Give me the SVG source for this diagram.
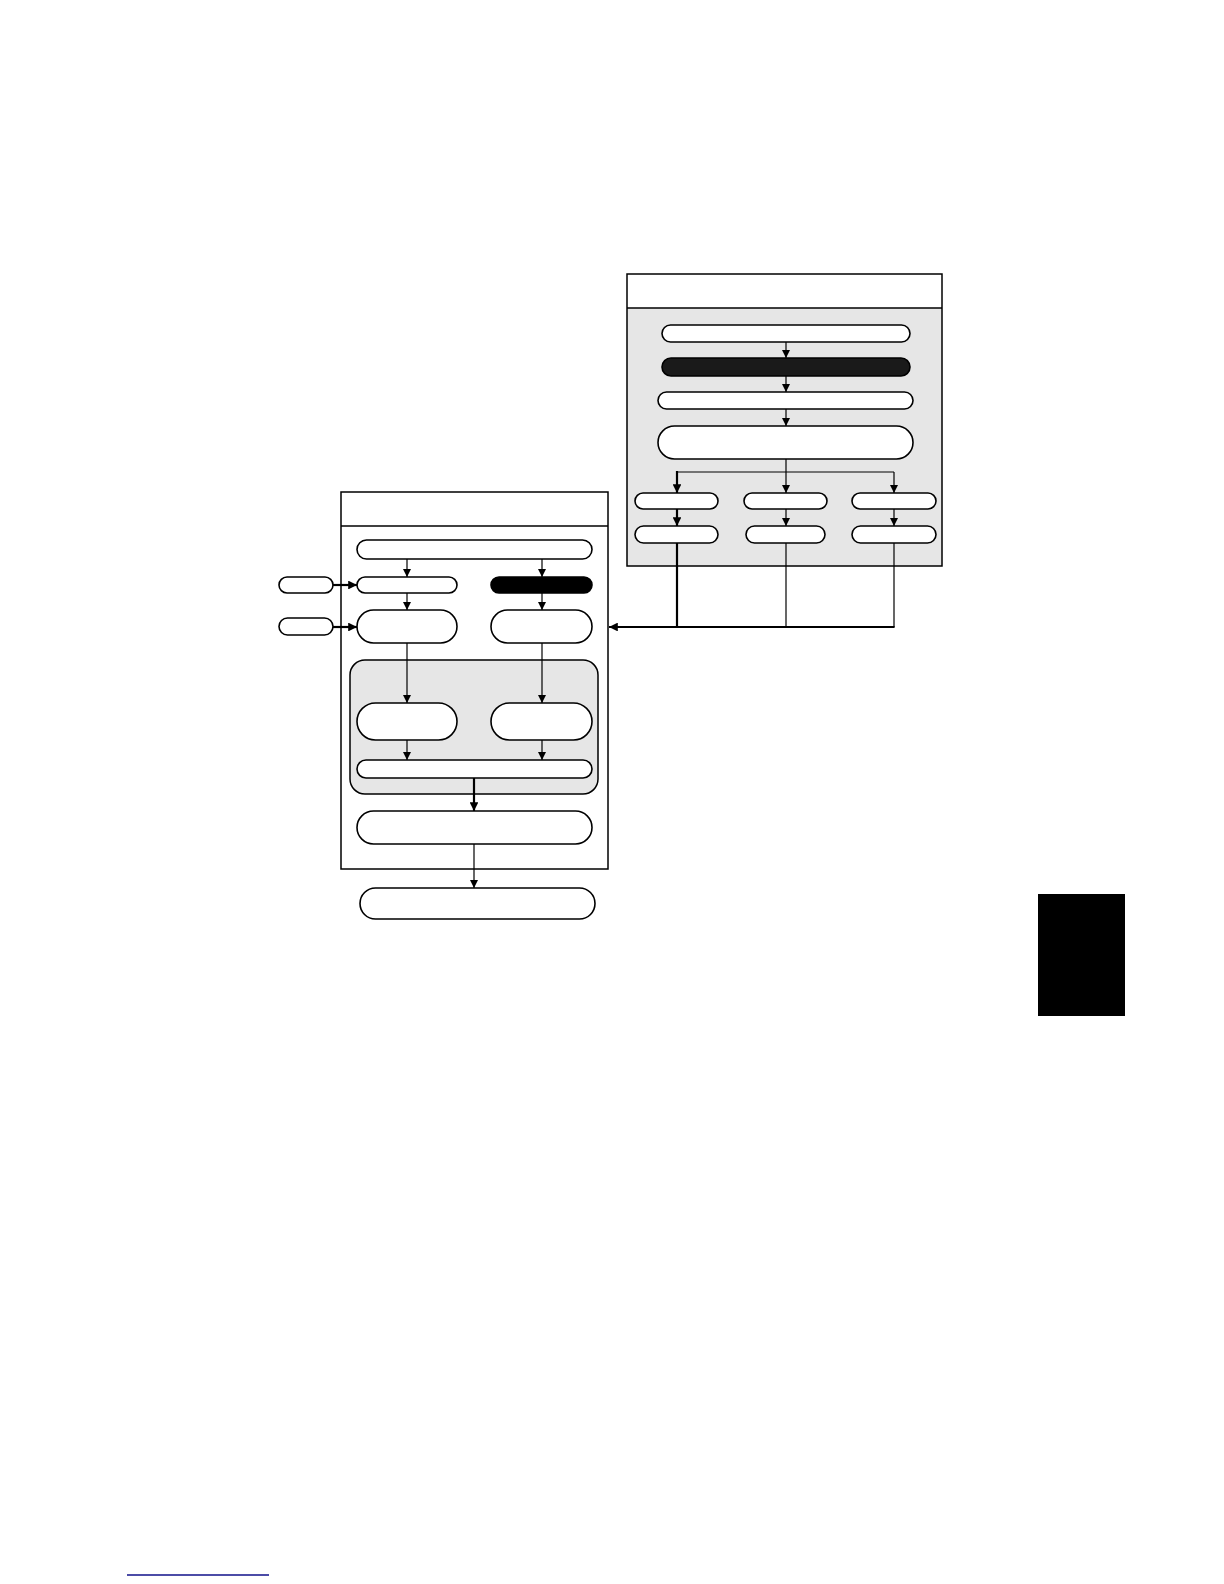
<svg xmlns="http://www.w3.org/2000/svg" width="1224" height="1584" viewBox="0 0 1224 1584">
<defs>
<style>
.panel{fill:#ffffff;stroke:#000;stroke-width:1.5}
.gray{fill:#e6e6e6;stroke:none}
.grp{fill:#e6e6e6;stroke:#000;stroke-width:1.5}
.n{fill:#fff;stroke:#000;stroke-width:1.6}
.nb{fill:#1a1a1a;stroke:#000;stroke-width:1.6}
.c{fill:none;stroke:#000;stroke-width:1.2}
.ct{fill:none;stroke:#000;stroke-width:2.2}
</style>
<marker id="a" viewBox="0 0 10 10" refX="10" refY="5" markerWidth="9" markerHeight="8" markerUnits="userSpaceOnUse" orient="auto">
<path d="M0,0 L10,5 L0,10 z" fill="#000"/>
</marker>
<marker id="at" viewBox="0 0 10 10" refX="10" refY="5" markerWidth="4.2" markerHeight="4" orient="auto">
<path d="M0,0 L10,5 L0,10 z" fill="#000"/>
</marker>
</defs>
<rect width="1224" height="1584" fill="#fff"/>

<!-- right panel -->
<g id="rightPanel">
<rect class="gray" x="627" y="308" width="315" height="258"/>
<rect x="627" y="274" width="315" height="292" fill="none" stroke="#000" stroke-width="1.5"/>
<line x1="627" y1="308" x2="942" y2="308" stroke="#000" stroke-width="1.5"/>
</g>

<!-- left panel -->
<g id="leftPanel">
<rect class="panel" x="341" y="492" width="267" height="377"/>
<line x1="341" y1="526" x2="608" y2="526" stroke="#000" stroke-width="1.5"/>
</g>
<g id="innerGroup">
<rect class="grp" x="350" y="660" width="248" height="134" rx="15"/>
</g>

<g id="connectors">
<!-- right panel -->
<line class="c" x1="786" y1="342" x2="786" y2="358" marker-end="url(#a)"/>
<line class="c" x1="786" y1="376" x2="786" y2="392" marker-end="url(#a)"/>
<line class="c" x1="786" y1="409" x2="786" y2="426" marker-end="url(#a)"/>
<line class="c" x1="786" y1="459" x2="786" y2="493" marker-end="url(#a)"/>
<polyline class="c" points="677,472 894,472"/>
<line class="ct" x1="677" y1="471" x2="677" y2="493" marker-end="url(#at)"/>
<line class="c" x1="894" y1="472" x2="894" y2="493" marker-end="url(#a)"/>
<line class="ct" x1="677" y1="509" x2="677" y2="526" marker-end="url(#at)"/>
<line class="c" x1="786" y1="509" x2="786" y2="526" marker-end="url(#a)"/>
<line class="c" x1="894" y1="509" x2="894" y2="526" marker-end="url(#a)"/>
<line class="ct" x1="677" y1="543" x2="677" y2="628"/>
<line class="c" x1="786" y1="543" x2="786" y2="627"/>
<line class="c" x1="894" y1="543" x2="894" y2="627"/>
<line class="ct" x1="894.6" y1="627" x2="609" y2="627" marker-end="url(#at)"/>
<!-- left panel -->
<line class="c" x1="407" y1="559" x2="407" y2="577" marker-end="url(#a)"/>
<line class="c" x1="542" y1="559" x2="542" y2="577" marker-end="url(#a)"/>
<line class="c" x1="407" y1="593" x2="407" y2="610" marker-end="url(#a)"/>
<line class="c" x1="542" y1="593" x2="542" y2="610" marker-end="url(#a)"/>
<line class="ct" x1="333" y1="585" x2="357" y2="585" marker-end="url(#at)"/>
<line class="ct" x1="333" y1="627" x2="357" y2="627" marker-end="url(#at)"/>
<line class="c" x1="407" y1="643" x2="407" y2="703" marker-end="url(#a)"/>
<line class="c" x1="542" y1="643" x2="542" y2="703" marker-end="url(#a)"/>
<line class="c" x1="407" y1="740" x2="407" y2="760" marker-end="url(#a)"/>
<line class="c" x1="542" y1="740" x2="542" y2="760" marker-end="url(#a)"/>
<line class="ct" x1="474" y1="778" x2="474" y2="811" marker-end="url(#at)"/>
<line class="c" x1="474" y1="844" x2="474" y2="888" marker-end="url(#a)"/>
</g>

<!-- right panel nodes -->
<g id="r1"><rect class="n" x="662" y="325" width="248" height="17" rx="8.5"/></g>
<g id="r2"><rect class="nb" x="662" y="358" width="248" height="18" rx="9"/></g>
<g id="r3"><rect class="n" x="658" y="392" width="255" height="17" rx="8.5"/></g>
<g id="r4"><rect class="n" x="658" y="426" width="255" height="33" rx="16.5"/></g>
<g id="r5a"><rect class="n" x="635" y="493" width="83" height="16" rx="8"/></g>
<g id="r5b"><rect class="n" x="744" y="493" width="83" height="16" rx="8"/></g>
<g id="r5c"><rect class="n" x="852" y="493" width="84" height="16" rx="8"/></g>
<g id="r6a"><rect class="n" x="635" y="526" width="83" height="17" rx="8.5"/></g>
<g id="r6b"><rect class="n" x="746" y="526" width="79" height="17" rx="8.5"/></g>
<g id="r6c"><rect class="n" x="852" y="526" width="84" height="17" rx="8.5"/></g>

<!-- left panel nodes -->
<g id="l1"><rect class="n" x="357" y="540" width="235" height="19" rx="9.5"/></g>
<g id="ext1"><rect class="n" x="279" y="577" width="54" height="16" rx="8"/></g>
<g id="ext2"><rect class="n" x="279" y="618" width="54" height="17" rx="8.5"/></g>
<g id="l2a"><rect class="n" x="357" y="577" width="100" height="16" rx="8"/></g>
<g id="l2b"><rect class="nb" x="491" y="577" width="101" height="16" rx="8" style="fill:#000"/></g>
<g id="l3a"><rect class="n" x="357" y="610" width="100" height="33" rx="16.5"/></g>
<g id="l3b"><rect class="n" x="491" y="610" width="101" height="33" rx="16.5"/></g>
<g id="l4a"><rect class="n" x="357" y="703" width="100" height="37" rx="18.5"/></g>
<g id="l4b"><rect class="n" x="491" y="703" width="101" height="37" rx="18.5"/></g>
<g id="l5"><rect class="n" x="357" y="760" width="235" height="18" rx="9"/></g>
<g id="l6"><rect class="n" x="357" y="811" width="235" height="33" rx="16.5"/></g>
<g id="l7"><rect class="n" x="360" y="888" width="235" height="31" rx="15.5"/></g>

<!-- page elements -->
<rect x="1038" y="894" width="87" height="122" fill="#000"/>
<line x1="127" y1="1575" x2="269" y2="1575" stroke="#10108a" stroke-width="1.5"/>
</svg>
